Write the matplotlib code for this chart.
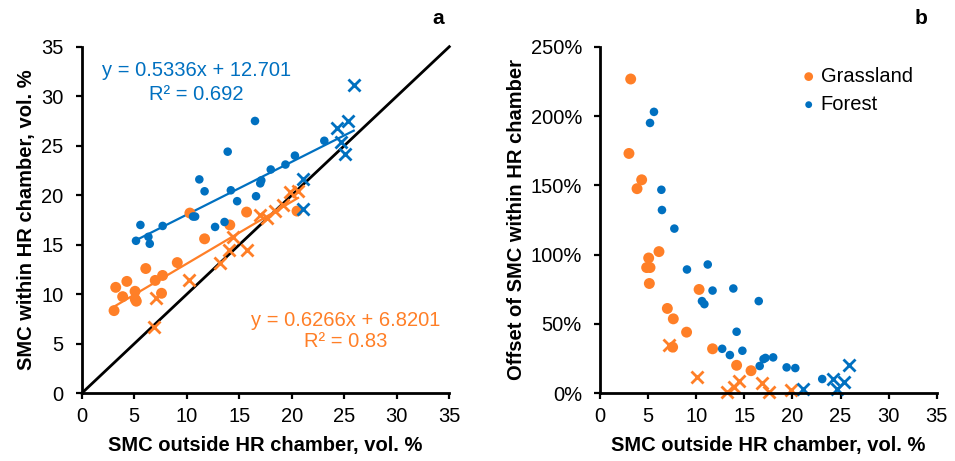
import matplotlib
matplotlib.use("Agg")
import matplotlib.pyplot as plt
import numpy as np

plt.rcParams['font.family'] = ['Liberation Sans', 'DejaVu Sans']

ORANGE = '#FF7F27'
BLUE = '#0070C0'

# ---------- Panel a data ----------
grass_dot_x = [3.08, 3.24, 3.9, 4.3, 5.08, 5.1, 5.2, 6.1, 7.0, 7.7, 7.6, 9.1, 10.3, 11.7, 14.1, 15.7, 20.5]
grass_dot_y = [8.35, 10.7, 9.76, 11.3, 10.3, 9.5, 9.3, 12.6, 11.4, 11.9, 10.1, 13.2, 18.2, 15.6, 17.0, 18.3, 18.4]
grass_x_x = [6.9, 7.1, 10.2, 13.2, 14.0, 14.4, 15.7, 17.0, 17.6, 18.4, 19.2, 19.8, 20.6]
grass_x_y = [6.7, 9.6, 11.4, 13.2, 14.5, 15.8, 14.5, 18.0, 17.7, 18.4, 19.0, 20.3, 20.4]

forest_dot_x = [5.17, 5.59, 6.35, 6.48, 7.71, 10.6, 10.8, 11.2, 11.7, 12.7, 13.6, 13.9, 14.2, 14.8,
                16.5, 16.6, 17.0, 17.1, 18.0, 19.4, 20.3, 23.1]
forest_dot_y = [15.4, 17.0, 15.8, 15.1, 16.9, 17.85, 17.85, 21.6, 20.4, 16.8, 17.3, 24.4, 20.5, 19.4,
                27.5, 19.9, 21.2, 21.5, 22.6, 23.1, 24.0, 25.5]
forest_x_x = [21.1, 21.1, 24.3, 24.7, 25.1, 25.4, 25.9]
forest_x_y = [21.6, 18.6, 26.8, 25.4, 24.2, 27.5, 31.1]

forest_fit = (0.5336, 12.701)
grass_fit = (0.6266, 6.8201)
forest_eq = ["y = 0.5336x + 12.701", "R² = 0.692"]
grass_eq = ["y = 0.6266x + 6.8201", "R² = 0.83"]

# ---------- Panel b data (offset, %) ----------
b_grass_dot_x = [3.19, 3.01, 4.33, 3.85, 6.13, 5.06, 4.85, 5.2, 5.13, 7.0, 7.62, 9.0, 10.3, 7.55, 11.7, 14.2, 15.7]
b_grass_dot_y = [226.7, 173, 154, 147.6, 102.2, 97.6, 90.7, 90.7, 79.2, 61.2, 53.7, 44.1, 74.9, 33.3, 32.1, 20.2, 16.3]
b_grass_x_x = [7.2, 10.05, 13.2, 13.9, 14.45, 16.8, 17.6, 19.9]
b_grass_x_y = [34.5, 12, 0.8, 4.2, 9.1, 7.2, 1.0, 2.4]

b_forest_dot_x = [5.61, 5.2, 6.38, 6.44, 7.73, 9.04, 11.2, 11.7, 10.6, 10.85, 13.86, 16.5, 14.2, 12.7,
                  13.5, 14.8, 16.6, 17.0, 17.2, 18.0, 19.4, 20.3, 23.1]
b_forest_dot_y = [203, 195, 146.8, 132.2, 118.8, 89.3, 92.9, 74.1, 66.5, 64.3, 75.6, 66.5, 44.4, 32.1,
                  27.6, 30.7, 19.7, 24.7, 25.5, 25.9, 18.7, 18.2, 10.3]
b_forest_x_x = [21.05, 24.25, 24.67, 25.37, 25.9]
b_forest_x_y = [3.3, 10.5, 3.0, 8.4, 20.5]

x_ticks = [0, 5, 10, 15, 20, 25, 30, 35]
a_y_ticks = [0, 5, 10, 15, 20, 25, 30, 35]
b_y_ticks = [0, 50, 100, 150, 200, 250]

W, H = 955, 461
fig = plt.figure(figsize=(W / 100, H / 100), dpi=100)
axa = fig.add_axes([81.7 / W, 1 - 393.3 / H, (449.3 - 81.7) / W, (393.3 - 46.7) / H])
axb = fig.add_axes([600 / W, 1 - 393.3 / H, (936.7 - 600) / W, (393.3 - 46.7) / H])

TICK_FS = 14.5
LABEL_FS = 14.5
EQ_FS = 14.5
S_BIG = 62
S_SMALL = 38
S_X = 75


def style(ax):
    for side in ['top', 'right']:
        ax.spines[side].set_visible(False)
    for side in ['left', 'bottom']:
        ax.spines[side].set_linewidth(2)
        ax.spines[side].set_color('black')
    ax.tick_params(direction='out', length=4, width=1.6, labelsize=TICK_FS, colors='black')
    ax.tick_params(axis='x', pad=6)
    ax.tick_params(axis='y', pad=9)
    ax.set_xlim(0, 35)
    ax.set_xticks(x_ticks)
    ax.set_xlabel("SMC outside HR chamber, vol. %", fontsize=LABEL_FS, fontweight='bold', labelpad=7)
    for spine in ax.spines.values():
        spine.set_zorder(5)


# Panel a
style(axa)
axa.set_ylim(0, 35)
axa.set_yticks(a_y_ticks)
axa.set_ylabel("SMC within HR chamber, vol. %", fontsize=LABEL_FS, fontweight='bold', labelpad=4)
axa.plot([0, 35], [0, 35], color='black', lw=2, zorder=1, clip_on=False)

fx = np.array([min(forest_dot_x + forest_x_x), max(forest_dot_x + forest_x_x)])
gx = np.array([min(grass_dot_x + grass_x_x), max(grass_dot_x + grass_x_x)])
axa.plot(fx, forest_fit[0] * fx + forest_fit[1], color=BLUE, lw=1.6, zorder=2)
axa.plot(gx, grass_fit[0] * gx + grass_fit[1], color=ORANGE, lw=1.6, zorder=2)

axa.scatter(grass_dot_x, grass_dot_y, s=S_BIG, color=ORANGE, edgecolors='none', zorder=3)
axa.scatter(grass_x_x, grass_x_y, s=S_X, marker='x', color=ORANGE, linewidths=2, zorder=3)
axa.scatter(forest_dot_x, forest_dot_y, s=S_SMALL, color=BLUE, edgecolors='none', zorder=3)
axa.scatter(forest_x_x, forest_x_y, s=S_X, marker='x', color=BLUE, linewidths=2, zorder=3)

axa.text(10.95, 32.6, forest_eq[0], color=BLUE, fontsize=EQ_FS, ha='center', va='center')
axa.text(10.95, 30.2, forest_eq[1], color=BLUE, fontsize=EQ_FS, ha='center', va='center')
axa.text(25.15, 7.4, grass_eq[0], color=ORANGE, fontsize=EQ_FS, ha='center', va='center')
axa.text(25.15, 5.2, grass_eq[1], color=ORANGE, fontsize=EQ_FS, ha='center', va='center')

fig.text(438 / W, 1 - 18 / H, "a", fontsize=15, fontweight='bold', ha='center', va='center')
fig.text(921 / W, 1 - 18 / H, "b", fontsize=15, fontweight='bold', ha='center', va='center')

# Panel b
style(axb)
axb.set_ylim(0, 250)
axb.set_yticks(b_y_ticks)
axb.set_yticklabels([f"{v}%" for v in b_y_ticks])
axb.set_ylabel("Offset of SMC within HR chamber", fontsize=LABEL_FS, fontweight='bold', labelpad=3)

axb.scatter(b_grass_dot_x, b_grass_dot_y, s=S_BIG, color=ORANGE, edgecolors='none', zorder=3,
            label='Grassland', clip_on=False)
axb.scatter(b_grass_x_x, b_grass_x_y, s=S_X, marker='x', color=ORANGE, linewidths=2, zorder=3, clip_on=False)
axb.scatter(b_forest_dot_x, b_forest_dot_y, s=S_SMALL, color=BLUE, edgecolors='none', zorder=3,
            label='Forest', clip_on=False)
axb.scatter(b_forest_x_x, b_forest_x_y, s=S_X, marker='x', color=BLUE, linewidths=2, zorder=3, clip_on=False)

axb.legend(loc='upper left', bbox_to_anchor=(0.56, 0.965), frameon=False, fontsize=14.5,
           handletextpad=0.0, labelspacing=0.45, borderaxespad=0, handlelength=1.2, markerscale=0.8)

fig.savefig("out.png", dpi=100)
